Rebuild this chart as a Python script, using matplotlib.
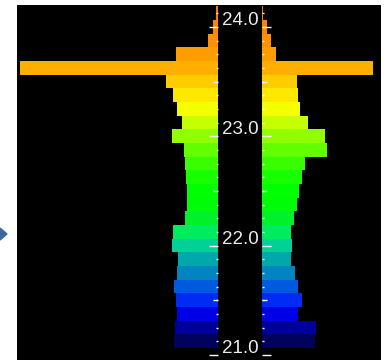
import matplotlib
matplotlib.use("Agg")
import matplotlib.pyplot as plt
import matplotlib.transforms as mtransforms
from matplotlib.colors import LinearSegmentedColormap, Normalize
from matplotlib.ticker import MultipleLocator, NullFormatter
from matplotlib.patches import Polygon

# histogram bins (centre value), 0.125 wide
bin_centers = [21.125, 21.25, 21.375, 21.5, 21.625, 21.75, 21.875, 22.0,
               22.125, 22.25, 22.375, 22.5, 22.625, 22.75, 22.875, 23.0,
               23.125, 23.25, 23.375, 23.5, 23.625, 23.75, 23.875, 24.0, 24.125]
left_counts = [44, 43, 41, 42, 44, 41, 40, 46, 45, 33, 31, 31, 32, 33, 34, 46,
               36, 41, 45, 52, 198, 42, 10, 5, 2]
right_counts = [53, 54, 36, 40, 36, 33, 29, 30, 29, 32, 35, 37, 40, 43, 65, 63,
                46, 38, 36, 35, 111, 14, 9, 5, 1]
tick_values = [21.0, 22.0, 23.0, 24.0]
tick_labels = ["21.0", "22.0", "23.0", "24.0"]
half_ticks = [21.5, 22.5, 23.5]

W, H = 387, 360
ylim = (20.953, 24.2)
bin_h = 0.125

cmap = LinearSegmentedColormap.from_list("bands", [
    (0.00, "#000050"), (0.05, "#000060"), (0.09, "#0000b0"), (0.13, "#0000ff"),
    (0.17, "#0040ee"), (0.21, "#0068d8"), (0.245, "#0090b8"), (0.285, "#00b0a8"),
    (0.325, "#00e090"), (0.36, "#00ee50"), (0.40, "#00f020"), (0.44, "#00ff00"),
    (0.48, "#00ff00"), (0.52, "#20ff00"), (0.56, "#40ff00"), (0.60, "#70ff00"),
    (0.64, "#a0ff00"), (0.675, "#d0ff00"), (0.715, "#ffff00"), (0.755, "#ffe000"),
    (0.79, "#ffc800"), (0.83, "#ffaa00"), (0.87, "#ff9900"), (0.91, "#ff8c00"),
    (0.95, "#ff8000"), (1.00, "#ff7800")])
norm = Normalize(21.0, 24.2)
colors = [cmap(norm(v)) for v in bin_centers]

fig = plt.figure(figsize=(W / 100, H / 100), dpi=100, facecolor="white")

bg = fig.add_axes([17 / W, 0, 364 / W, 355 / H])
bg.set_facecolor("black")
bg.set_xticks([])
bg.set_yticks([])
for s in bg.spines.values():
    s.set_visible(False)

ax_l = fig.add_axes([17 / W, 0, 201 / W, 355 / H])
ax_r = fig.add_axes([262 / W, 0, 119 / W, 355 / H])

ax_l.barh(bin_centers, left_counts, height=bin_h, color=colors, linewidth=0)
ax_r.barh(bin_centers, right_counts, height=bin_h, color=colors, linewidth=0)
ax_l.set_xlim(201, 0)
ax_r.set_xlim(0, 119)

ax_l.yaxis.tick_right()
for ax in (ax_l, ax_r):
    ax.set_facecolor("black")
    ax.set_ylim(*ylim)
    ax.set_xticks([])
    for s in ax.spines.values():
        s.set_visible(False)
    ax.set_yticks(tick_values)
    ax.yaxis.set_major_formatter(NullFormatter())
    ax.yaxis.set_minor_locator(MultipleLocator(0.125))
    ax.tick_params(axis="y", which="major", direction="in", length=6.5,
                   width=1.0, color="white")
    ax.tick_params(axis="y", which="minor", direction="in", length=1.5,
                   width=1.0, color="white")

# medium ticks at the half values
tl = mtransforms.blended_transform_factory(ax_l.transAxes, ax_l.transData)
tr = mtransforms.blended_transform_factory(ax_r.transAxes, ax_r.transData)
ax_l.hlines(half_ticks, 1 - 5 / 201, 1, transform=tl, color="white", lw=1.0)
ax_r.hlines(half_ticks, 0, 5 / 119, transform=tr, color="white", lw=1.0)

# value labels centred in the gap
lab_tr = mtransforms.blended_transform_factory(fig.transFigure, ax_l.transData) + \
    mtransforms.ScaledTranslation(0, 6.5 / 100, fig.dpi_scale_trans)
for v, t in zip(tick_values, tick_labels):
    fig.text(240 / W, v, t, transform=lab_tr, ha="center", va="center",
             color="#ececec", fontsize=13.5, family="Liberation Sans")

# slide arrow at the left edge
fig.patches.append(Polygon([(0, 1 - 228 / H), (7 / W, 1 - 234 / H), (0, 1 - 240 / H)],
                           closed=True, transform=fig.transFigure,
                           color="#3d6a9e", figure=fig))

fig.savefig("out.png", dpi=100, facecolor="white")
